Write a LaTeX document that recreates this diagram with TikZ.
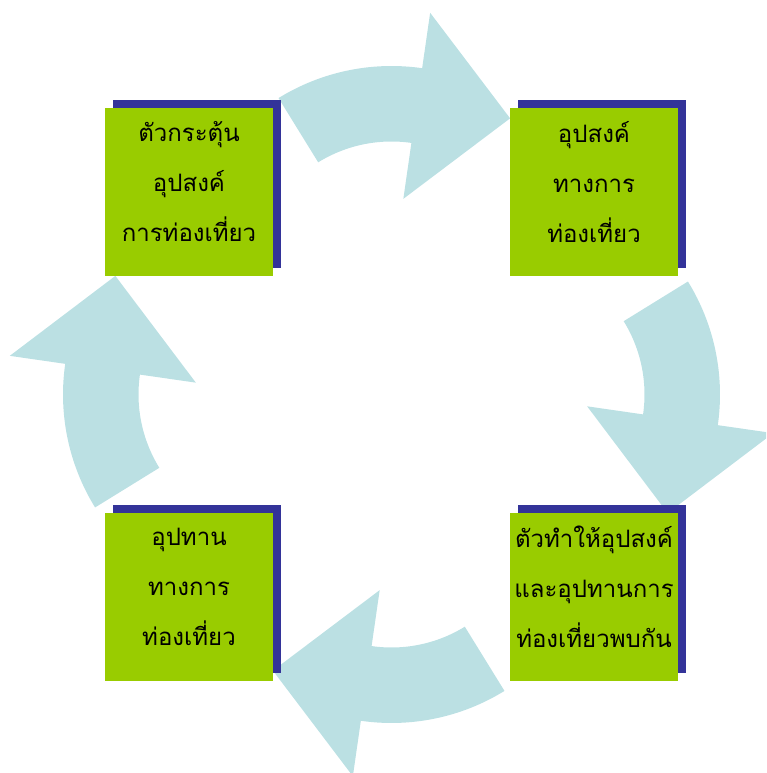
\documentclass[tikz,border=0pt]{standalone}
\usepackage{fontspec}
\newfontfamily\thaifont[Script=Thai]{Loma}
\usetikzlibrary{shadows}
\definecolor{boxgreen}{HTML}{99CC00}
\definecolor{shadownavy}{HTML}{333399}
\definecolor{arrowblue}{HTML}{BBE0E3}
\tikzset{
  stagebox/.style={fill=boxgreen, draw=none, minimum width=168pt, minimum height=168pt, inner sep=0pt,
    general shadow={fill=shadownavy, shadow xshift=8pt, shadow yshift=8pt}},
  stagetext/.style={font=\thaifont\fontsize{24}{50}\selectfont, align=center, inner sep=0pt, text=black},
  cyclearrow/.style={fill=arrowblue, draw=none}
}
\begin{document}
\begin{tikzpicture}[x=1pt,y=1pt]
\useasboundingbox (0,0) rectangle (766,773);
\clip (0,0) rectangle (766,773);
\coordinate (C) at (391.5,378.5);
% four curved arrows, rotations of the top one about the centre
\foreach \r in {0,-90,-180,-270}{
  \begin{scope}[rotate around={\r:(C)}, shift={(391.5,492)}]
    \fill[cyclearrow] (121.7:215) arc[start angle=121.7, end angle=81.8, radius=215pt]
      -- (81.8:271) -- (53.9:201.3) -- (81.8:83) -- (81.8:139.5)
      arc[start angle=81.8, end angle=121.7, radius=139.5pt] -- cycle;
  \end{scope}
}
% boxes
\node[stagebox] (b1) at (189,581) {};
\node[stagebox] (b2) at (594,581) {};
\node[stagebox] (b3) at (594,176) {};
\node[stagebox] (b4) at (189,176) {};
% texts
\node[stagetext] (t1) at ([yshift=10pt]b1.center) {ตัวกระตุ้น\\อุปสงค์\\การท่องเที่ยว};
\node[stagetext] (t2) at ([yshift=10pt]b2.center) {อุปสงค์\\ทางการ\\ท่องเที่ยว};
\node[stagetext] (t3) at ([yshift=10pt]b3.center) {ตัวทำให้อุปสงค์\\และอุปทานการ\\ท่องเที่ยวพบกัน};
\node[stagetext] (t4) at ([yshift=10pt]b4.center) {อุปทาน\\ทางการ\\ท่องเที่ยว};
\end{tikzpicture}
\end{document}
